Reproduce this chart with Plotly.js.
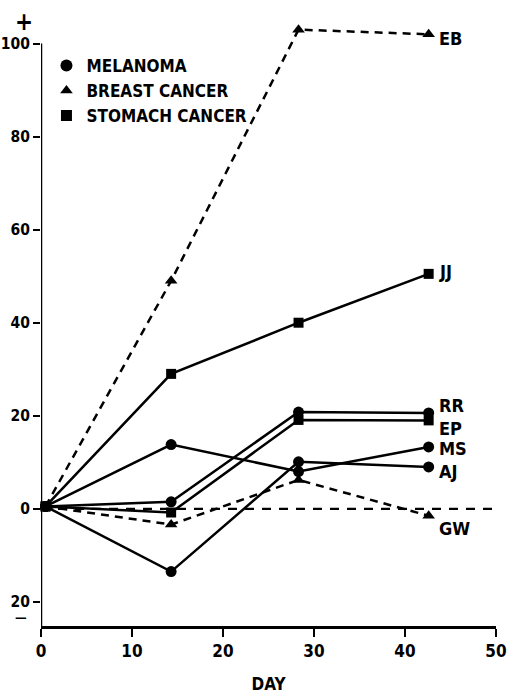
<!DOCTYPE html>
<html>
<head>
<meta charset="utf-8">
<script src="https://cdn.plot.ly/plotly-3.0.1.min.js"></script>
<style>html,body{margin:0;padding:0;background:#fff;}#chart{width:507px;height:695px;}</style>
</head>
<body>
<div id="chart"></div>
<script>
// ---- data ----
var days = [0.5, 14.3, 28.3, 42.6];
var baselineX = [0, 50];
var baselineY = [0, 0];
// melanoma (circles, solid)
var RR = [0.5, 1.5, 20.8, 20.6];
var MS = [0.5, 13.8, 8.0, 13.3];
var AJ = [0.5, -13.5, 10.1, 9.0];
// breast cancer (triangles, dashed)
var EB = [0.5, 49, 103, 102];
var GW = [0.5, -3.4, 6.2, -1.5];
// stomach cancer (squares, solid)
var JJ = [0.5, 29, 40, 50.5];
var EP = [0.5, -0.8, 19.1, 19.0];

var yTickVals = [-20, 0, 20, 40, 60, 80, 100];
var yTickText = ['20', '0', '20', '40', '60', '80', '100'];
var xTickVals = [0, 10, 20, 30, 40, 50];
var legendNames = ['MELANOMA', 'BREAST CANCER', 'STOMACH CANCER'];

var FONT = '"DejaVu Sans Condensed", "Liberation Sans Narrow", sans-serif';

function series(y, sym, dash) {
  return {
    x: days, y: y, type: 'scatter', mode: 'lines+markers', showlegend: false,
    line: {color: '#000', width: 2.5, dash: dash},
    marker: {symbol: sym, size: sym === 'square' ? 10 : 11, color: '#000'},
    cliponaxis: false, hoverinfo: 'skip'
  };
}

var traces = [
  {x: baselineX, y: baselineY, type: 'scatter', mode: 'lines', showlegend: false,
   line: {color: '#000', width: 2.2, dash: '9px,8px'}, hoverinfo: 'skip'},
  series(RR, 'circle', 'solid'),
  series(MS, 'circle', 'solid'),
  series(AJ, 'circle', 'solid'),
  series(EB, 'triangle-up', '8px,6px'),
  series(GW, 'triangle-up', '8px,6px'),
  series(JJ, 'square', 'solid'),
  series(EP, 'square', 'solid'),
  {x: [null], y: [null], type: 'scatter', mode: 'markers', name: legendNames[0], marker: {symbol: 'circle', size: 12, color: '#000'}},
  {x: [null], y: [null], type: 'scatter', mode: 'markers', name: legendNames[1], marker: {symbol: 'triangle-up', size: 11, color: '#000'}},
  {x: [null], y: [null], type: 'scatter', mode: 'markers', name: legendNames[2], marker: {symbol: 'square', size: 11, color: '#000'}}
];

var labelFont = {family: FONT, size: 18, color: '#000', weight: 'bold'};
function lab(txt, y, xs, ys) {
  return {x: days[3], y: y, xref: 'x', yref: 'y', text: '<b>' + txt + '</b>', showarrow: false,
          xanchor: 'left', yanchor: 'middle', xshift: xs, yshift: ys, font: labelFont};
}

var layout = {
  width: 507, height: 695,
  margin: {l: 41, r: 11, t: 25, b: 69},
  paper_bgcolor: '#fff', plot_bgcolor: '#fff',
  font: {family: FONT, color: '#000'},
  showlegend: true,
  legend: {x: 0.012, y: 0.962, xanchor: 'left', yanchor: 'top', bgcolor: 'rgba(0,0,0,0)',
           font: {family: FONT, size: 17, color: '#000', weight: 'bold'},
           itemwidth: 30, tracegroupgap: 0},
  xaxis: {range: [0, 50], tickvals: xTickVals, ticks: 'outside', ticklen: 8, tickwidth: 2.2,
          tickcolor: '#000', showline: true, linecolor: '#000', linewidth: 2.5,
          showgrid: false, zeroline: false, ticklabeloverflow: 'allow', ticklabelstandoff: 0,
          tickfont: {family: FONT, size: 17, color: '#000', weight: 'bold'},
          title: {text: '<b>DAY</b>', font: {family: FONT, size: 17, color: '#000'}, standoff: 18}},
  yaxis: {range: [-25.2, 104], tickvals: yTickVals, ticktext: yTickText, ticks: 'outside', ticklen: 7,
          tickwidth: 2.2, tickcolor: '#000', showline: false, showgrid: false, zeroline: false,
          ticklabeloverflow: 'allow',
          tickfont: {family: FONT, size: 15.5, color: '#000', weight: 'bold'}},
  shapes: [
    {type: 'line', xref: 'x', yref: 'y', x0: 0, x1: 0, y0: -25.2, y1: 100,
     line: {color: '#000', width: 2.5}}
  ],
  annotations: [
    lab('EB', EB[3], 8, -4),
    lab('JJ', JJ[3], 8, 2),
    lab('RR', RR[3], 8, 7),
    lab('EP', EP[3], 8, -8),
    lab('MS', MS[3], 8, -2),
    lab('AJ', AJ[3], 8, -5),
    lab('GW', GW[3], 8, -13),
    {xref: 'paper', yref: 'paper', x: -0.038, y: 1.0058, xanchor: 'center', yanchor: 'middle',
     text: '<b>+</b>', showarrow: false, font: {family: FONT, size: 24, color: '#000'}},
    {xref: 'paper', yref: 'y', x: -0.045, y: -20, xanchor: 'center', yanchor: 'middle', yshift: -16,
     text: '<b>\u2014</b>', showarrow: false, font: {family: FONT, size: 13, color: '#000'}}
  ]
};

Plotly.newPlot('chart', traces, layout, {staticPlot: true, displayModeBar: false});
</script>
</body>
</html>
